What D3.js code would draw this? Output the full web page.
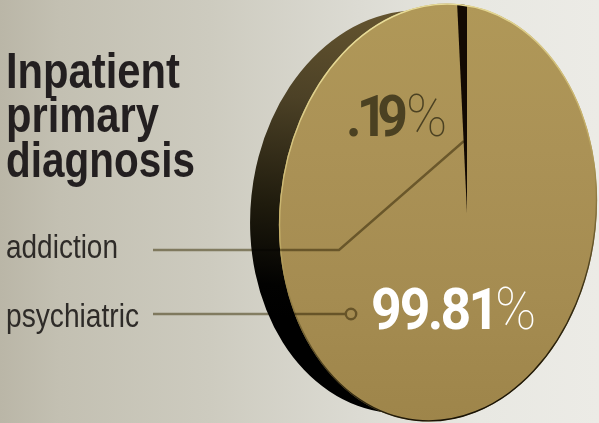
<!DOCTYPE html>
<html><head><meta charset="utf-8">
<script src="https://cdn.jsdelivr.net/npm/d3@7"></script>
<style>html,body{margin:0;padding:0;background:#d0cec3;overflow:hidden}svg{display:block}</style>
</head><body><div id="chart"></div>
<script>
const categories = ["addiction", "psychiatric"];
const values = [0.19, 99.81];
const valueLabels = [".19", "99.81"];
const titleLines = ["Inpatient", "primary", "diagnosis"];

const W = 599, H = 423;
const svg = d3.select("#chart").append("svg").attr("width", W).attr("height", H);
const defs = svg.append("defs");

function grad(id, attrs, stops) {
  const g = defs.append("linearGradient").attr("id", id).attr("gradientUnits", "userSpaceOnUse");
  Object.entries(attrs).forEach(([k, v]) => g.attr(k, v));
  stops.forEach(s => g.append("stop").attr("offset", s[0]).attr("stop-color", s[1]));
}
grad("bg", {x1: 0, y1: 0, x2: 599, y2: 0}, [[0, "#bab6a7"], [.1, "#c3c0b2"], [.35, "#cdcbbf"], [.6, "#dcdbd3"], [.8, "#e8e8e2"], [1, "#ecebe6"]]);
grad("side", {x1: 0, y1: 15, x2: 0, y2: 330}, [[0, "#64542f"], [.3, "#4c4126"], [.65, "#1f1b0d"], [.9, "#020201"], [1, "#000"]]);
grad("face", {x1: 0, y1: 4, x2: 0, y2: 421}, [[0, "#b09858"], [.35, "#ab9256"], [.7, "#a58c51"], [1, "#9e854a"]]);
grad("edge", {x1: 300, y1: 60, x2: 470, y2: 420}, [[0, "#e8dc98"], [.42, "#c4ae68"], [.6, "#8d7840"], [.8, "#3a3015"], [1, "#181205"]]);

svg.append("rect").attr("width", W).attr("height", H).attr("fill", "url(#bg)");

// Thick side of the disc and its face
const tilt = "rotate(6 438 212.5)";
svg.append("ellipse").attr("cx", 409).attr("cy", 212).attr("rx", 158.4).attr("ry", 202)
  .attr("transform", "rotate(6 409 212)").attr("fill", "url(#side)");

defs.append("clipPath").attr("id", "faceClip").append("ellipse")
  .attr("cx", 438).attr("cy", 212.5).attr("rx", 158.4).attr("ry", 209.5).attr("transform", tilt);

// The printed wedge is exaggerated compared with its true share
const wedgeExaggeration = d3.scaleLinear().domain([0, 0.0119]).range([0, 0.047]);
const pieData = d3.pie().sort(null).startAngle(0).endAngle(2 * Math.PI)(values.slice().reverse());
const arc = d3.arc().innerRadius(0).outerRadius(500);
const span = wedgeExaggeration(pieData[1].endAngle - pieData[1].startAngle);
const sliceAngles = [
  { name: "psychiatric", startAngle: 0, endAngle: 2 * Math.PI - span, fill: "url(#face)" },
  { name: "addiction", startAngle: 2 * Math.PI - span, endAngle: 2 * Math.PI, fill: "#130a03" }
];
const faceG = svg.append("g").attr("clip-path", "url(#faceClip)");
faceG.append("rect").attr("x", 270).attr("y", 0).attr("width", 340).attr("height", H).attr("fill", "url(#face)");
faceG.append("g").attr("transform", "translate(467,213)")
  .selectAll("path").data(sliceAngles).join("path")
  .attr("d", d => arc(d))
  .attr("fill", d => d.name === "addiction" ? d.fill : "none");

svg.append("ellipse").attr("cx", 438).attr("cy", 212.5).attr("rx", 157.8).attr("ry", 208.9).attr("transform", tilt)
  .attr("fill", "none").attr("stroke", "url(#edge)").attr("stroke-width", 1.4);

// Title
const title = svg.append("text").attr("fill", "#231f20").style("font-family", "'Liberation Sans'").style("font-weight", 700).style("font-size", "50px");
const titleBase = [88, 132, 177], titleLen = [174, 153, 189];
title.selectAll("tspan").data(titleLines).join("tspan")
  .attr("x", 6).attr("y", (d, i) => titleBase[i])
  .attr("textLength", (d, i) => titleLen[i]).attr("lengthAdjust", "spacingAndGlyphs")
  .text(d => d);

// Category labels
const labelBase = [258, 327], labelLen = [112, 133];
svg.append("g").attr("fill", "#2e2b28").style("font-family", "'Liberation Sans'").style("font-size", "33px")
  .selectAll("text").data(categories).join("text")
  .attr("x", 6).attr("y", (d, i) => labelBase[i])
  .attr("textLength", (d, i) => labelLen[i]).attr("lengthAdjust", "spacingAndGlyphs")
  .text(d => d);

// Leaders
const leaders = svg.append("g").style("mix-blend-mode", "multiply");
const line = d3.line();
leaders.append("path").attr("d", line([[153, 250], [339, 250], [464, 141]]))
  .attr("fill", "none").attr("stroke", "#a09a7f").attr("stroke-width", 2.4);
leaders.append("path").attr("d", line([[153, 314], [345, 314]]))
  .attr("fill", "none").attr("stroke", "#a09a7f").attr("stroke-width", 2.4);
leaders.append("circle").attr("cx", 351).attr("cy", 314).attr("r", 5.2)
  .attr("fill", "none").attr("stroke", "#a09a7f").attr("stroke-width", 2.4);

// Value labels
const hScale = 0.94;
const valueX = [346, 371], valueBase = [136, 329];
const valueDx = ["0 -5 -11", "0 -2 -3 -3 -3"];
const pctX = [406, 495], valueColors = ["#4b4122", "#ffffff"];
const vt = svg.append("g").selectAll("text").data(valueLabels).join("text")
  .attr("transform", (d, i) => `translate(${valueX[i]},${valueBase[i]}) scale(${hScale},1)`)
  .attr("fill", (d, i) => valueColors[i]);
vt.append("tspan").attr("x", 0).attr("dx", (d, i) => valueDx[i])
  .style("font-family", "Roboto").style("font-weight", 700).style("font-size", "57px")
  .text(d => d);
vt.append("tspan").attr("x", (d, i) => (pctX[i] - valueX[i]) / hScale)
  .style("font-family", "Roboto").style("font-weight", 100).style("font-size", "59px")
  .text("%");
</script></body></html>
